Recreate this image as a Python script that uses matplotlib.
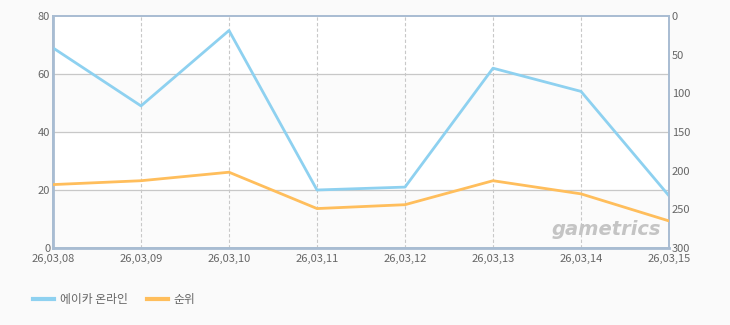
import matplotlib
matplotlib.use('Agg')
import matplotlib.pyplot as plt

plt.rcParams['font.family'] = ['Noto Sans CJK KR', 'DejaVu Sans']

# DATA
dates = ['26,03,08', '26,03,09', '26,03,10', '26,03,11',
         '26,03,12', '26,03,13', '26,03,14', '26,03,15']
share = [69, 49, 75, 20, 21, 62, 54, 18]       # left axis (blue)
rank = [218, 213, 202, 249, 244, 213, 230, 265]  # right axis, inverted (orange)
left_ticks = [0, 20, 40, 60, 80]
right_ticks = [0, 50, 100, 150, 200, 250, 300]

blue = '#8ed1f0'
orange = '#ffbe5c'
border = '#a8bcd2'
text_c = '#666666'

fig = plt.figure(figsize=(7.3, 3.25), dpi=100, facecolor='#fafafa')
ax = fig.add_axes([53/730, 1 - 248/325, 616/730, 232/325])
ax.set_facecolor('white')

x = list(range(len(dates)))

# alternating bands
ax.axhspan(40, 60, color='#fbfbfb', zorder=0)
ax.axhspan(0, 20, color='#fbfbfb', zorder=0)
for v in [20, 40, 60]:
    ax.axhline(v, color='#c8c8c8', lw=0.9, zorder=1)
for xi in x[1:-1]:
    ax.axvline(xi, color='#c8c8c8', lw=0.8, ls=(0, (3, 2)), zorder=1)

ax.plot(x, share, color=blue, lw=2, zorder=3)
ax.set_xlim(0, len(dates) - 1)
ax.set_ylim(0, 80)
ax.set_yticks(left_ticks)
ax.set_xticks(x)
ax.set_xticklabels(dates)

ax2 = ax.twinx()
ax2.plot(x, rank, color=orange, lw=2, zorder=3)
ax2.set_ylim(300, 0)
ax2.set_yticks(right_ticks)

for a in (ax, ax2):
    a.tick_params(length=0, labelsize=8, colors=text_c, pad=2)
    for s in a.spines.values():
        s.set_color(border)
        s.set_linewidth(1.2)
ax.tick_params(axis='x', pad=4)
ax.spines['left'].set_linewidth(2)
ax.spines['bottom'].set_linewidth(2)

# watermark
ax.text(0.988, 0.04, 'gametrics', transform=ax.transAxes, ha='right',
        va='bottom', fontsize=14, fontweight='bold', style='italic',
        color='#c4c4c4', family='DejaVu Sans', zorder=2)

# legend
fig.legend(handles=[plt.Line2D([], [], color=blue, lw=3),
                    plt.Line2D([], [], color=orange, lw=3)],
           labels=['에이카 온라인', '순위'], loc='lower left',
           bbox_to_anchor=(22/730, 0.025), ncol=2, frameon=False,
           fontsize=8.5, labelcolor=text_c, handlelength=1.8,
           columnspacing=1.6, handletextpad=0.5)

plt.savefig('out.png', dpi=100, facecolor=fig.get_facecolor())
